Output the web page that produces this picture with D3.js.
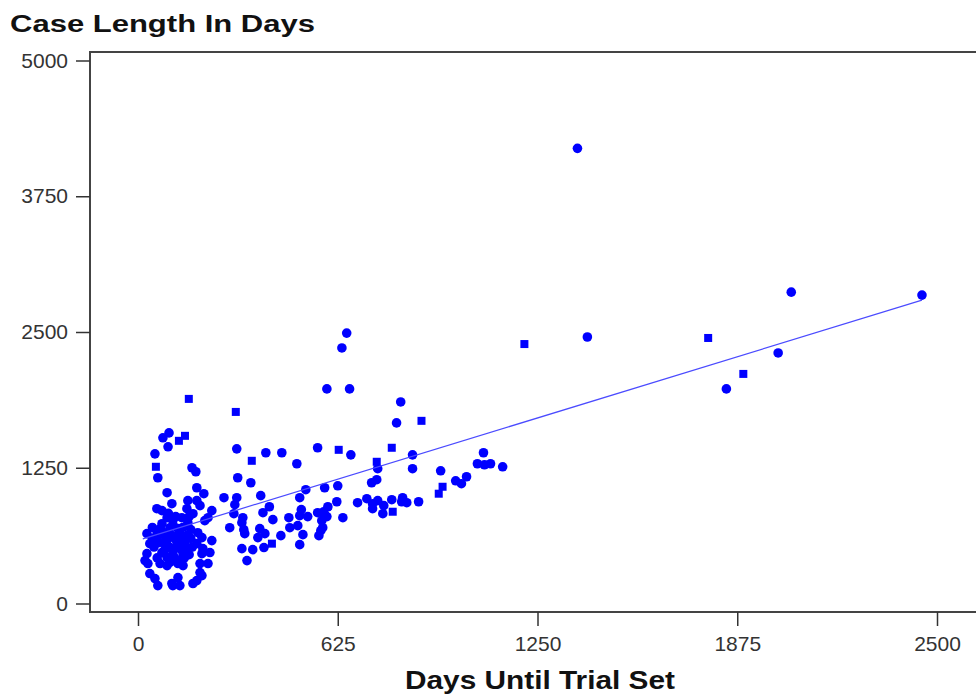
<!DOCTYPE html>
<html>
<head>
<meta charset="utf-8">
<script src="https://cdn.jsdelivr.net/npm/d3@7"></script>
<style>
  body { margin: 0; background: #fff; }
  svg { display: block; }
  text { font-family: "Liberation Sans", Arial, sans-serif; }
</style>
</head>
<body>
<div id="chart"></div>
<script>
// values (days)
const xTicks = [0, 625, 1250, 1875, 2500];
const yTicks = [0, 1250, 2500, 3750, 5000];

// round markers: [days until trial set, case length]
const dotPoints = [
  [1375,4191],[2453,2840],[2044,2867],[1406,2454],[2003,2307],[1841,1976],
  [653,2490],[638,2353],[591,1976],[662,1976],[822,1856],[809,1663],[562,1434],[666,1369],
  [859,1369],[750,1241],[859,1241],[947,1222],[1081,1388],[1062,1287],[1084,1277],[1103,1287],
  [1141,1259],[731,1112],[747,1140],[584,1066],[625,1084],[994,1130],[1012,1103],[1028,1167],
  [622,937],[687,928],[716,965],[734,919],[750,947],[734,873],[769,901],[766,827],[794,956],
  [828,974],[841,928],[825,937],[878,937],[594,891],[641,790],[572,671],[575,763],[591,800],
  [309,1424],[400,1388],[450,1388],[497,1287],[312,1158],[353,1112],[525,1048],[506,974],
  [384,993],[309,974],[269,974],[303,910],[300,827],[411,891],[391,836],[511,864],[506,809],
  [531,800],[562,836],[581,845],[422,772],[472,790],[325,744],[331,680],[328,790],[287,698],
  [381,689],[397,643],[475,698],[500,717],[578,698],[447,625],[334,643],[516,634],[566,625],
  [394,515],[325,505],[359,496],[506,542],[341,395],[375,607],
  [97,1571],[78,1526],[94,1443],[53,1378],[62,1158],[169,1250],[181,1213],[91,1020],[106,919],
  [184,1066],[206,1011],[156,947],[184,947],[194,901],[59,873],[75,855],[153,873],[172,827],
  [231,855],[219,790],[209,763],
  [28,643],[37,551],[91,790],[109,763],[75,735],[137,790],[156,744],[100,698],[125,689],[78,643],
  [106,625],[131,625],[153,625],[59,597],[91,579],[122,561],[147,551],[100,515],[131,505],[75,469],
  [109,459],[141,459],[91,423],[131,395],[187,652],[200,607],[184,551],[203,505],[225,469],
  [200,459],[231,579],[28,459],[31,368],[69,368],[91,349],[125,368],[141,349],[194,368],[219,368],
  [194,285],[37,276],[53,230],[62,165],[109,165],[125,239],[131,165],[172,184],[200,257],[184,211],
  [22,395],[106,184],
  [45,700],[60,650],[85,620],[115,600],[140,580],[165,600],[50,520],[65,560],[85,500],[120,520],
  [150,480],[170,520],[115,420],[145,420],[160,450],[60,420],[100,380],[80,560],[140,700],
  [165,680],[110,720],[130,660],[95,660],[70,690],[45,600],[118,800],[95,830],[160,800]
];

// square markers
const squarePoints = [
  [159,1884],[306,1764],[147,1544],[128,1498],[56,1259],[356,1314],[628,1415],[747,1305],
  [887,1682],[1209,2389],[1784,2445],[1894,2114],[953,1075],[941,1011],[797,845],[419,551],[794,1434]
];

// fitted line
const fitIntercept = 581;
const fitSlope = 0.902;
const fitRange = [15, 2453];

const width = 976, height = 696;
const svg = d3.select("#chart").append("svg")
  .attr("width", width)
  .attr("height", height);

const x = d3.scaleLinear().domain([0, 2500]).range([138, 937]);
const y = d3.scaleLinear().domain([0, 5000]).range([603.5, 60.5]);

const frame = { left: 90, top: 52, bottom: 612 };

// title
svg.append("text")
  .attr("x", 10).attr("y", 32)
  .attr("textLength", 305).attr("lengthAdjust", "spacingAndGlyphs")
  .style("font-size", "23px").style("font-weight", "bold").attr("fill", "#111")
  .text("Case Length In Days");

// frame (right edge falls outside the window)
svg.append("rect")
  .attr("x", frame.left).attr("y", frame.top)
  .attr("width", 1000).attr("height", frame.bottom - frame.top)
  .attr("fill", "none").attr("stroke", "#444").attr("stroke-width", 2);

// y axis
const yAxis = svg.append("g")
  .attr("transform", `translate(${frame.left},0)`)
  .call(d3.axisLeft(y).tickValues(yTicks).tickSize(14).tickPadding(8).tickFormat(d3.format("d")));
yAxis.select(".domain").remove();
yAxis.selectAll("line").attr("stroke", "#333").attr("stroke-width", 1.5);
yAxis.selectAll("text").style("font-size", "21px").attr("fill", "#333")
  .style("font-family", "'Liberation Sans', Arial, sans-serif");

// x axis
const xAxis = svg.append("g")
  .attr("transform", `translate(0,${frame.bottom})`)
  .call(d3.axisBottom(x).tickValues(xTicks).tickSize(14).tickPadding(10).tickFormat(d3.format("d")));
xAxis.select(".domain").remove();
xAxis.selectAll("line").attr("stroke", "#333").attr("stroke-width", 1.5);
xAxis.selectAll("text").style("font-size", "21px").attr("fill", "#333")
  .style("font-family", "'Liberation Sans', Arial, sans-serif");

svg.append("text")
  .attr("x", 540).attr("y", 689)
  .attr("text-anchor", "middle")
  .attr("textLength", 270).attr("lengthAdjust", "spacingAndGlyphs")
  .style("font-size", "26px").style("font-weight", "bold").attr("fill", "#111")
  .text("Days Until Trial Set");

// points
svg.append("g").selectAll("circle")
  .data(dotPoints)
  .enter().append("circle")
  .attr("cx", d => x(d[0]))
  .attr("cy", d => y(d[1]))
  .attr("r", 4.8)
  .attr("fill", "#0000ff");

svg.append("g").selectAll("rect")
  .data(squarePoints)
  .enter().append("rect")
  .attr("x", d => x(d[0]) - 4)
  .attr("y", d => y(d[1]) - 4)
  .attr("width", 8).attr("height", 8)
  .attr("fill", "#0000ff");

// regression line
const fitLine = d3.line().x(d => x(d)).y(d => y(fitIntercept + fitSlope * d));
svg.append("path")
  .attr("d", fitLine(fitRange))
  .attr("fill", "none")
  .attr("stroke", "#4b4bff")
  .attr("stroke-width", 1.2);
</script>
</body>
</html>
